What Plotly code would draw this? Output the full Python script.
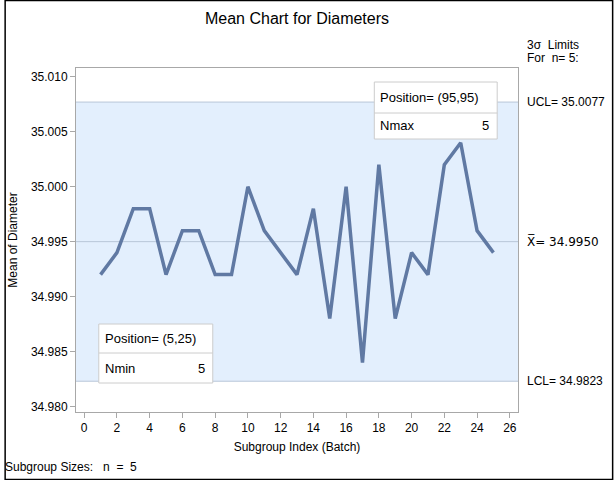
import plotly.graph_objects as go

batch = list(range(1, 26))
means = [34.992, 34.994, 34.998, 34.998, 34.992, 34.996, 34.996, 34.992, 34.992, 35.000,
         34.996, 34.994, 34.992, 34.998, 34.988, 35.000, 34.984, 35.002, 34.988, 34.994,
         34.992, 35.002, 35.004, 34.996, 34.994]
ucl = 35.0077
center = 34.9950
lcl = 34.9823
x_ticks = list(range(0, 27, 2))
y_ticks = [34.980, 34.985, 34.990, 34.995, 35.000, 35.005, 35.010]

W, H = 614, 480
L, R, T, B = 72, 96, 68, 68
pw, ph = W - L - R, H - T - B

def px(x):
    return (x - L) / pw

def py(y):
    return (H - B - y) / ph

FONT = "Liberation Sans, Arial, sans-serif"
GRAY = "#a8a8a8"

fig = go.Figure()

fig.add_trace(go.Scatter(x=batch, y=means, mode="lines",
                         line=dict(color="#6079a3", width=3.5),
                         hoverinfo="x+y", showlegend=False))

shapes = [
    dict(type="rect", xref="paper", yref="y", x0=0, x1=1, y0=lcl, y1=ucl,
         fillcolor="#e3effd", line=dict(width=0), layer="below"),
    dict(type="line", xref="paper", yref="y", x0=0, x1=1, y0=ucl, y1=ucl,
         line=dict(color="#b9c6d8", width=1), layer="below"),
    dict(type="line", xref="paper", yref="y", x0=0, x1=1, y0=lcl, y1=lcl,
         line=dict(color="#b9c6d8", width=1), layer="below"),
    dict(type="line", xref="paper", yref="y", x0=0, x1=1, y0=center, y1=center,
         line=dict(color="#b9c6d8", width=1), layer="below"),
]

annotations = []

def inset(x0, x1, y0, y1, ydiv, line1, name, val):
    shapes.append(dict(type="rect", xref="paper", yref="paper",
                       x0=px(x0), x1=px(x1), y0=py(y1), y1=py(y0),
                       fillcolor="white", line=dict(color="#cccccc", width=1), layer="above"))
    shapes.append(dict(type="line", xref="paper", yref="paper",
                       x0=px(x0), x1=px(x1), y0=py(ydiv), y1=py(ydiv),
                       line=dict(color="#cccccc", width=1), layer="above"))
    annotations.append(dict(text=line1, xref="paper", yref="paper",
                            x=px(x0 + 4), y=py((y0 + ydiv) / 2), xanchor="left", yanchor="middle",
                            showarrow=False, font=dict(size=13, color="black", family=FONT)))
    annotations.append(dict(text=name, xref="paper", yref="paper",
                            x=px(x0 + 4), y=py((ydiv + y1) / 2), xanchor="left", yanchor="middle",
                            showarrow=False, font=dict(size=13, color="black", family=FONT)))
    annotations.append(dict(text=val, xref="paper", yref="paper",
                            x=px(x1 - 6), y=py((ydiv + y1) / 2), xanchor="right", yanchor="middle",
                            showarrow=False, font=dict(size=13, color="black", family=FONT)))

inset(373, 497, 82, 139, 113, "Position= (95,95)", "Nmax", "5")
inset(95, 210, 324, 383, 353, "Position= (5,25)", "Nmin", "5")

rx = px(525)
annotations += [
    dict(text="3σ  Limits", xref="paper", yref="paper", x=rx, y=py(45), xanchor="left",
         yanchor="middle", showarrow=False, font=dict(size=12, color="black", family=FONT)),
    dict(text="For  n= 5:", xref="paper", yref="paper", x=rx, y=py(58), xanchor="left",
         yanchor="middle", showarrow=False, font=dict(size=12, color="black", family=FONT)),
    dict(text=f"UCL= {ucl:.4f}", xref="paper", yref="y", x=rx, y=ucl, xanchor="left",
         yanchor="middle", showarrow=False, font=dict(size=12, color="black", family=FONT)),
    dict(text=f"X\u0305= {center:.4f}", xref="paper", yref="y", x=rx, y=center, xanchor="left",
         yanchor="middle", showarrow=False, font=dict(size=12, color="black", family="DejaVu Sans, sans-serif")),
    dict(text=f"LCL= {lcl:.4f}", xref="paper", yref="y", x=rx, y=lcl, xanchor="left",
         yanchor="middle", showarrow=False, font=dict(size=12, color="black", family=FONT)),
    dict(text="Subgroup Sizes:   n  =  5", xref="paper", yref="paper", x=px(-2), y=py(467),
         xanchor="left", yanchor="middle", showarrow=False,
         font=dict(size=12, color="black", family=FONT)),
]

# outer border
shapes.append(dict(type="rect", xref="paper", yref="paper",
                   x0=px(0.5), x1=px(W - 0.5), y0=py(H - 0.5), y1=py(0.5),
                   line=dict(color="black", width=1.5), fillcolor="rgba(0,0,0,0)", layer="above"))

fig.update_layout(
    width=W, height=H,
    margin=dict(l=L, r=R, t=T, b=B),
    paper_bgcolor="white", plot_bgcolor="white",
    title=dict(text="Mean Chart for Diameters", x=0.5, xref="paper", xanchor="center",
               y=1 - 18 / H, yanchor="middle", font=dict(size=16, color="black", family=FONT)),
    font=dict(family=FONT, size=12, color="black"),
    shapes=shapes, annotations=annotations,
    xaxis=dict(range=[-0.5, 26.5], tickvals=x_ticks, ticks="outside", ticklen=5,
               tickcolor=GRAY, showline=True, linecolor=GRAY, mirror=True, showgrid=False,
               zeroline=False, tickfont=dict(size=12),
               title=dict(text="Subgroup Index (Batch)", font=dict(size=12), standoff=8)),
    yaxis=dict(range=[34.9795, 35.0108], tickvals=y_ticks, tickformat=".3f", ticks="outside",
               ticklen=5, tickcolor=GRAY, showline=True, linecolor=GRAY, mirror=True,
               showgrid=False, zeroline=False, tickfont=dict(size=12),
               title=dict(text="Mean of Diameter", font=dict(size=12), standoff=10)),
)

fig.write_html("out.html", config={"displayModeBar": False},
               post_script="document.body.style.margin='0';document.body.style.overflow='hidden';")
